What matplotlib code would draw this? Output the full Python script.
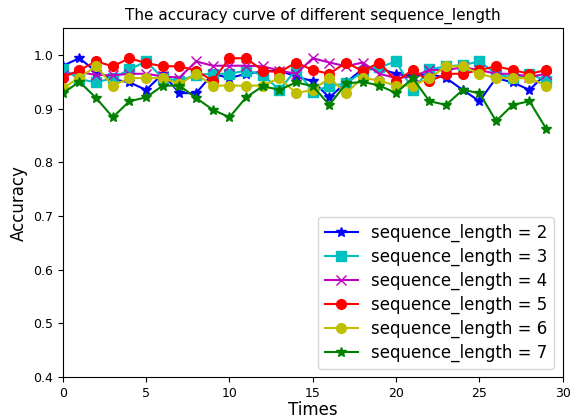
import matplotlib
matplotlib.use('Agg')
import matplotlib.pyplot as plt
import numpy as np

times = np.arange(30)

seq2 = [0.980, 0.994, 0.969, 0.955, 0.949, 0.935, 0.965, 0.929, 0.929, 0.965,
        0.957, 0.965, 0.969, 0.971, 0.960, 0.951, 0.921, 0.949, 0.974, 0.975,
        0.965, 0.960, 0.965, 0.957, 0.935, 0.914, 0.957, 0.949, 0.935, 0.965]
seq3 = [0.974, 0.955, 0.949, 0.957, 0.973, 0.988, 0.957, 0.952, 0.963, 0.965,
        0.965, 0.971, 0.963, 0.935, 0.973, 0.932, 0.942, 0.947, 0.969, 0.977,
        0.988, 0.935, 0.973, 0.979, 0.981, 0.988, 0.965, 0.957, 0.965, 0.952]
seq4 = [0.963, 0.968, 0.963, 0.962, 0.965, 0.965, 0.960, 0.958, 0.988, 0.980,
        0.980, 0.980, 0.979, 0.971, 0.965, 0.994, 0.986, 0.979, 0.986, 0.965,
        0.957, 0.960, 0.972, 0.972, 0.977, 0.972, 0.965, 0.965, 0.959, 0.965]
seq5 = [0.958, 0.972, 0.988, 0.979, 0.994, 0.985, 0.979, 0.979, 0.971, 0.952,
        0.994, 0.994, 0.971, 0.968, 0.986, 0.972, 0.965, 0.986, 0.970, 0.986,
        0.951, 0.972, 0.951, 0.965, 0.965, 0.972, 0.979, 0.972, 0.965, 0.972]
seq6 = [0.938, 0.958, 0.979, 0.943, 0.957, 0.957, 0.957, 0.946, 0.965, 0.943,
        0.943, 0.943, 0.943, 0.957, 0.929, 0.935, 0.957, 0.929, 0.958, 0.952,
        0.943, 0.943, 0.957, 0.979, 0.979, 0.965, 0.957, 0.957, 0.957, 0.943]
seq7 = [0.929, 0.950, 0.920, 0.884, 0.914, 0.921, 0.943, 0.943, 0.920, 0.898,
        0.884, 0.921, 0.942, 0.935, 0.949, 0.942, 0.907, 0.947, 0.950, 0.943,
        0.929, 0.957, 0.914, 0.907, 0.935, 0.929, 0.877, 0.907, 0.914, 0.863]

fig = plt.figure(figsize=(5.76, 4.2), dpi=100)
ax = fig.add_axes([0.109, 0.102, 0.868, 0.831])

ax.plot(times, seq2, 'b*-', markersize=7, label='sequence_length = 2')
ax.plot(times, seq3, 'cs-', markersize=7, label='sequence_length = 3')
ax.plot(times, seq4, 'mx-', markersize=7, label='sequence_length = 4')
ax.plot(times, seq5, 'ro-', markersize=7, label='sequence_length = 5')
ax.plot(times, seq6, 'yo-', markersize=7, label='sequence_length = 6')
ax.plot(times, seq7, 'g*-', markersize=7, label='sequence_length = 7')

ax.set_xlim(0, 30)
ax.set_ylim(0.4, 1.05)
ax.tick_params(labelsize=9)
ax.set_xlabel('Times', fontsize=12, labelpad=1)
ax.set_ylabel('Accuracy', fontsize=12)
ax.set_title('The accuracy curve of different sequence_length', fontsize=11)
ax.legend(loc='lower right', fontsize=12, labelspacing=0.35)

fig.savefig('out.png', dpi=100)
